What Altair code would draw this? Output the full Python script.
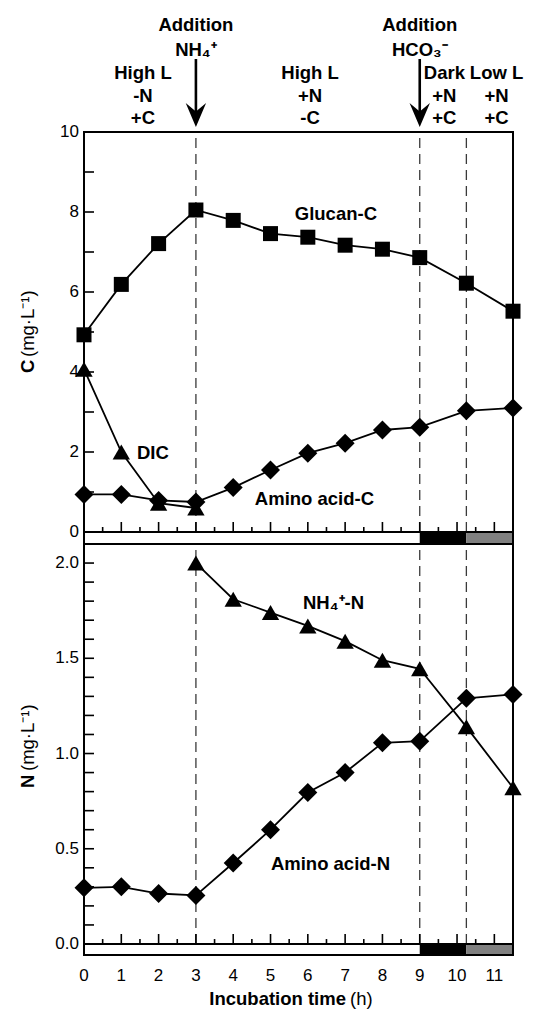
import altair as alt
import pandas as pd

FONT = "Liberation Sans"

# ---------------- data ----------------
hours = [0, 1, 2, 3, 4, 5, 6, 7, 8, 9, 10.25, 11.5]
glucan_c = [4.93, 6.19, 7.21, 8.05, 7.79, 7.46, 7.37, 7.17, 7.07, 6.86, 6.22, 5.52]
amino_acid_c = [0.94, 0.94, 0.79, 0.75, 1.11, 1.55, 1.97, 2.22, 2.55, 2.62, 3.03, 3.10]
dic_hours = [0, 1, 2, 3]
dic = [4.07, 2.0, 0.72, 0.60]
nh4_hours = [3, 4, 5, 6, 7, 8, 9, 10.25, 11.5]
nh4_n = [2.0, 1.81, 1.74, 1.67, 1.59, 1.49, 1.445, 1.14, 0.82]
amino_acid_n = [0.295, 0.30, 0.265, 0.255, 0.425, 0.60, 0.795, 0.90, 1.056, 1.065, 1.29, 1.31]

phase_lines = [3, 9, 10.25]
strip_start = [0, 9, 10.25]
strip_end = [9, 10.25, 11.5]
strip_fill = ["white", "black", "#808080"]
arrow_hours = [3, 9]

x_major = [0, 1, 2, 3, 4, 5, 6, 7, 8, 9, 10, 11]
x_labels = ["0", "1", "2", "3", "4", "5", "6", "7", "8", "9", "10", "11"]
x_minor = [0.5, 1.5, 2.5, 3.5, 4.5, 5.5, 6.5, 7.5, 8.5, 9.5, 10.5]
c_label_vals = [0, 2, 4, 6, 8, 10]
c_label_txt = ["0", "2", "4", "6", "8", "10"]
c_ticks = [1, 2, 3, 4, 5, 6, 7, 8, 9]
n_label_vals = [0, 0.5, 1.0, 1.5, 2.0]
n_label_txt = ["0.0", "0.5", "1.0", "1.5", "2.0"]
n_ticks = [0.1, 0.2, 0.3, 0.4, 0.5, 0.6, 0.7, 0.8, 0.9, 1.0,
           1.1, 1.2, 1.3, 1.4, 1.5, 1.6, 1.7, 1.8, 1.9, 2.0]

c_series_labels = ["Glucan-C", "DIC", "Amino acid-C"]
c_label_x = [5.65, 1.42, 4.58]
c_label_y = [7.95, 1.98, 0.83]
n_series_labels = ["NH\u2084\u207a-N", "Amino acid-N"]
n_label_x = [5.87, 5.01]
n_label_y = [1.79, 0.418]

ann_x = [1.58, 3, 6.06, 9, 9.66, 11.06]
ann_rows = [
    ["", "Addition", "", "Addition", "", ""],
    ["", "NH\u2084\u207a", "", "HCO\u2083\u207b", "", ""],
    ["High L", "", "High L", "", "Dark", "Low L"],
    ["-N", "", "+N", "", "+N", "+N"],
    ["+C", "", "-C", "", "+C", "+C"],
]
ann_row_px = [-107, -82, -59, -36, -14]

# ---------------- layout constants ----------------
W = 429
TOP_H = 412
BOT_H = 411
X_MAX = 11.5
TOP_MIN, TOP_MAX = -0.3, 10
BOT_MIN, BOT_MAX = -0.0578, 2.1
BOLD = 18.5
TICKF = 17
UNITF = 18.5

xscale = alt.Scale(domain=[0, X_MAX], nice=False, zero=False)
ytop = alt.Scale(domain=[TOP_MIN, TOP_MAX], nice=False, zero=False)
ybot = alt.Scale(domain=[BOT_MIN, BOT_MAX], nice=False, zero=False)

one = pd.DataFrame({"k": [0]})


def xf(field):
    return alt.X(field, type="quantitative", scale=xscale, axis=None)


def yf(field, ys):
    return alt.Y(field, type="quantitative", scale=ys, axis=None)


def yd(v, ys):
    return alt.YDatum(v, scale=ys, axis=None, type="quantitative")


def xd(v):
    return alt.XDatum(v, scale=xscale, axis=None, type="quantitative")


def common_layers(ys, ymin, ymax, tick_major, tick_minor, ytick_vals, ylab_vals, ylab_txt,
                  height, show_x_labels):
    layers = []
    # dashed phase lines
    layers.append(
        alt.Chart(pd.DataFrame({"h": phase_lines})).mark_rule(
            color="#3a3a3a", strokeWidth=1.3, strokeDash=[10, 6]
        ).encode(x=xf("h"), y=yd(0, ys), y2=alt.Y2Datum(ymax))
    )
    # strip (light regime)
    layers.append(
        alt.Chart(pd.DataFrame({"s": strip_start, "e": strip_end, "c": strip_fill})).mark_rect(
            strokeWidth=0
        ).encode(x=xf("s"), x2="e", y=yd(ymin, ys), y2=alt.Y2Datum(0),
                 color=alt.Color("c:N", scale=None))
    )
    # y ticks (inward)
    layers.append(
        alt.Chart(pd.DataFrame({"v": ytick_vals})).mark_rule(color="black", strokeWidth=1.6).encode(
            x=alt.value(0), x2=alt.value(10), y=yf("v", ys)
        )
    )
    # y tick labels
    layers.append(
        alt.Chart(pd.DataFrame({"v": ylab_vals, "t": ylab_txt})).mark_text(
            align="right", baseline="middle", font=FONT, fontSize=TICKF, color="black"
        ).encode(x=alt.value(-5), y=yf("v", ys), text="t:N")
    )
    # x ticks (pointing up from strip)
    layers.append(
        alt.Chart(pd.DataFrame({"t": x_major})).mark_rule(color="black", strokeWidth=1.6).encode(
            x=xf("t"), y=yd(0, ys), y2=alt.Y2Datum(tick_major)
        )
    )
    layers.append(
        alt.Chart(pd.DataFrame({"t": x_minor})).mark_rule(color="black", strokeWidth=1.6).encode(
            x=xf("t"), y=yd(0, ys), y2=alt.Y2Datum(tick_minor)
        )
    )
    if show_x_labels:
        layers.append(
            alt.Chart(pd.DataFrame({"v": x_major, "t": x_labels})).mark_text(
                align="center", baseline="middle", font=FONT, fontSize=TICKF, color="black"
            ).encode(x=xf("v"), y=alt.value(height + 21), text="t:N")
        )
    # strip top line
    layers.append(
        alt.Chart(one).mark_rule(color="black", strokeWidth=2).encode(
            x=xd(0), x2=alt.X2Datum(X_MAX), y=yd(0, ys)
        )
    )
    # frame
    layers.append(
        alt.Chart(one).mark_rect(fillOpacity=0, stroke="black", strokeWidth=2).encode(
            x=xd(0), x2=alt.X2Datum(X_MAX), y=yd(ymin, ys), y2=alt.Y2Datum(ymax)
        )
    )
    return layers


def series(xv, yv, shape, size, ys):
    df = pd.DataFrame({"h": xv, "v": yv})
    base = alt.Chart(df)
    return [
        base.mark_line(color="black", strokeWidth=1.8).encode(x=xf("h"), y=yf("v", ys)),
        base.mark_point(shape=shape, size=size, filled=True, color="black", opacity=1,
                        strokeWidth=0).encode(x=xf("h"), y=yf("v", ys)),
    ]


def series_labels(lbls, lx, ly, ys):
    df = pd.DataFrame({"t": lbls, "x": lx, "y": ly})
    return alt.Chart(df).mark_text(
        align="left", baseline="middle", font=FONT, fontWeight="bold", fontSize=BOLD, color="black"
    ).encode(x=xf("x"), y=yf("y", ys), text="t:N")


def y_title(letter, letter_px, unit_px):
    return [
        alt.Chart(one).mark_text(
            text=letter, angle=270, align="left", baseline="middle", font=FONT,
            fontWeight="bold", fontSize=BOLD, color="black"
        ).encode(x=alt.value(-56), y=alt.value(letter_px)),
        alt.Chart(one).mark_text(
            text="(mg\u00b7L\u207b\u00b9)", angle=270, align="left", baseline="middle", font=FONT,
            fontSize=UNITF, color="black"
        ).encode(x=alt.value(-56), y=alt.value(unit_px)),
    ]


SQUARE = 225
DIAMOND = 361
TRI = 300

# ---------------- top panel: carbon ----------------
top_layers = common_layers(ytop, TOP_MIN, TOP_MAX, 0.25, 0.125, c_ticks, c_label_vals,
                           c_label_txt, TOP_H, False)
top_layers += series(hours, glucan_c, "square", SQUARE, ytop)
top_layers += series(dic_hours, dic, "triangle-up", TRI, ytop)
top_layers += series(hours, amino_acid_c, "diamond", DIAMOND, ytop)
top_layers.append(series_labels(c_series_labels, c_label_x, c_label_y, ytop))
top_layers += y_title("C", 241, 225)

# annotations above the panel
for r, row in enumerate(ann_rows):
    xs_r = [ann_x[i] for i, t in enumerate(row) if t]
    ts_r = [t for t in row if t]
    top_layers.append(
        alt.Chart(pd.DataFrame({"x": xs_r, "t": ts_r})).mark_text(
            align="center", baseline="middle", font=FONT, fontWeight="bold",
            fontSize=BOLD, color="black"
        ).encode(x=xf("x"), y=alt.value(ann_row_px[r]), text="t:N")
    )
arrow_df = pd.DataFrame({"h": arrow_hours})
top_layers.append(
    alt.Chart(arrow_df).mark_rule(color="black", strokeWidth=2.6).encode(
        x=xf("h"), y=alt.value(-73), y2=alt.value(-14)
    )
)
top_layers.append(
    alt.Chart(arrow_df).mark_point(
        shape="M0,1L-0.85,-1L0,-0.3L0.85,-1Z", size=576, filled=True, color="black",
        opacity=1, strokeWidth=0
    ).encode(x=xf("h"), y=alt.value(-17))
)

top = alt.layer(*top_layers).properties(width=W, height=TOP_H)

# ---------------- bottom panel: nitrogen ----------------
bot_layers = common_layers(ybot, BOT_MIN, BOT_MAX, 0.0525, 0.026, n_ticks, n_label_vals,
                           n_label_txt, BOT_H, True)
bot_layers += series(nh4_hours, nh4_n, "triangle-up", TRI, ybot)
bot_layers += series(hours, amino_acid_n, "diamond", DIAMOND, ybot)
bot_layers.append(series_labels(n_series_labels, n_label_x, n_label_y, ybot))
bot_layers += y_title("N", 244, 227)
bot_layers.append(
    alt.Chart(one).mark_text(
        text="Incubation time", align="right", baseline="middle", font=FONT,
        fontWeight="bold", fontSize=BOLD, color="black"
    ).encode(x=alt.value(262), y=alt.value(455))
)
bot_layers.append(
    alt.Chart(one).mark_text(
        text="(h)", align="left", baseline="middle", font=FONT,
        fontSize=BOLD, color="black"
    ).encode(x=alt.value(266), y=alt.value(455))
)

bottom = alt.layer(*bot_layers).properties(width=W, height=BOT_H)

chart = alt.vconcat(top, bottom, spacing=0, bounds="flush").resolve_scale(
    x="independent", y="independent"
).properties(
    padding={"left": 10, "top": 7, "right": 5, "bottom": 5}
).configure_view(strokeWidth=0).configure(font=FONT)

chart.save("out.html", embed_options={"renderer": "svg", "actions": False})
